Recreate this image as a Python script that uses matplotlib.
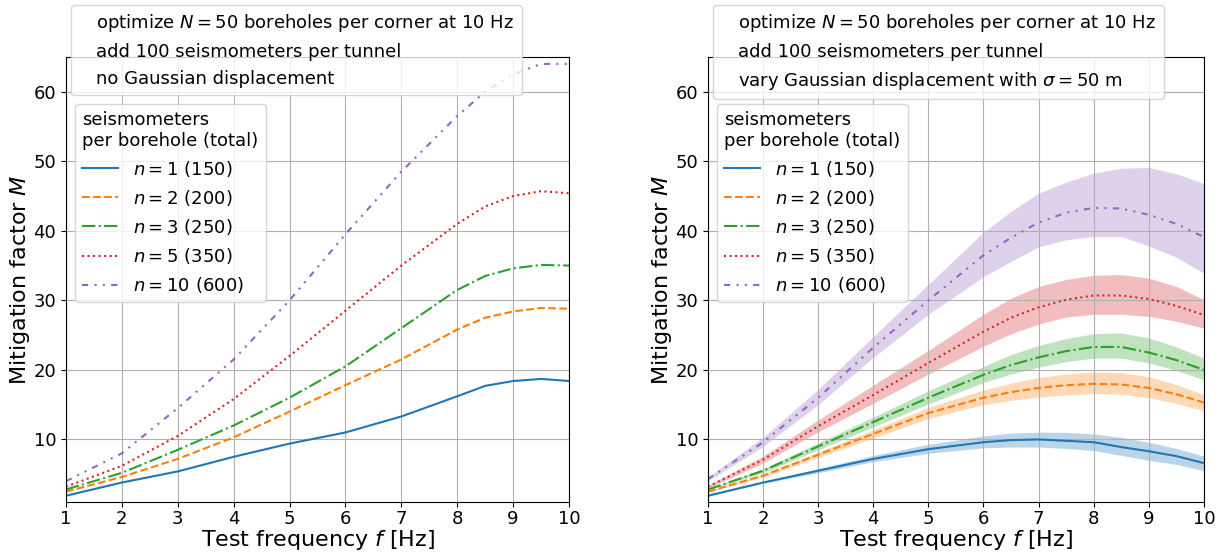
import matplotlib
matplotlib.use('Agg')
import numpy as np
import matplotlib.pyplot as plt
from matplotlib.lines import Line2D

freq_left = [1, 2, 3, 4, 5, 6, 7, 8, 8.5, 9, 9.5, 10]
freq_right = [1, 2, 3, 4, 5, 6, 6.5, 7, 7.5, 8, 8.5, 9, 9.5, 10]

labels = ['$n = 1$ (150)', '$n = 2$ (200)', '$n = 3$ (250)',
          '$n = 5$ (350)', '$n = 10$ (600)']
styles = ['-', '--', '-.', ':', (0, (3, 3, 1, 3, 1, 3))]
colors = ['C0', 'C1', 'C2', 'C3', 'C4']

# left panel: no Gaussian displacement
M_left_n1 = [1.9, 3.8, 5.4, 7.5, 9.4, 11.0, 13.3, 16.2, 17.7, 18.4, 18.7, 18.4]
M_left_n2 = [2.5, 4.6, 7.2, 10.3, 14.0, 17.8, 21.5, 25.8, 27.5, 28.4, 28.9, 28.8]
M_left_n3 = [2.8, 5.2, 8.5, 12.0, 16.0, 20.5, 26.0, 31.5, 33.5, 34.6, 35.1, 35.0]
M_left_n5 = [3.2, 6.2, 10.5, 15.8, 22.0, 28.5, 35.0, 41.0, 43.5, 45.0, 45.7, 45.4]
M_left_n10 = [4.0, 8.0, 14.5, 21.5, 30.0, 39.5, 48.5, 56.5, 60.0, 62.5, 64.0, 64.0]

# right panel: Gaussian displacement sigma = 50 m (mean, lower, upper)
M_right_n1 = [1.9, 3.8, 5.5, 7.2, 8.6, 9.6, 9.9, 10.0, 9.8, 9.6, 8.9, 8.3, 7.6, 6.6]
M_right_n2 = [2.5, 4.8, 7.8, 10.8, 13.8, 16.0, 16.8, 17.4, 17.8, 18.0, 17.9, 17.4, 16.5, 15.3]
M_right_n3 = [2.8, 5.5, 9.0, 12.5, 16.0, 19.3, 20.7, 21.8, 22.7, 23.3, 23.3, 22.5, 21.4, 20.0]
M_right_n5 = [3.2, 7.1, 11.9, 16.4, 21.0, 25.5, 27.5, 29.0, 30.1, 30.7, 30.7, 30.2, 29.2, 27.9]
M_right_n10 = [4.3, 9.6, 16.0, 23.2, 30.0, 36.5, 39.0, 41.2, 42.6, 43.3, 43.2, 42.3, 41.0, 39.1]

lo_right_n1 = [1.85, 3.7, 5.2, 6.8, 8.0, 8.8, 8.9, 8.9, 8.7, 8.4, 7.7, 7.0, 6.4, 5.5]
hi_right_n1 = [1.95, 3.9, 5.8, 7.7, 9.3, 10.5, 10.9, 11.05, 11.0, 10.8, 10.3, 9.6, 8.7, 7.6]
lo_right_n2 = [2.4, 4.6, 7.4, 10.2, 13.0, 15.0, 15.6, 16.1, 16.4, 16.6, 16.5, 16.0, 15.2, 14.1]
hi_right_n2 = [2.6, 5.0, 8.2, 11.4, 14.6, 17.1, 18.1, 18.9, 19.4, 19.7, 19.6, 19.0, 17.9, 16.4]
lo_right_n3 = [2.7, 5.2, 8.5, 11.8, 15.1, 18.2, 19.4, 20.4, 21.2, 21.7, 21.7, 21.0, 19.9, 18.6]
hi_right_n3 = [2.9, 5.8, 9.5, 13.2, 17.0, 20.5, 22.2, 23.5, 24.5, 25.2, 25.3, 24.6, 23.3, 21.7]
lo_right_n5 = [3.0, 6.6, 11.1, 15.2, 19.4, 23.4, 25.2, 26.6, 27.6, 28.0, 28.0, 27.7, 27.0, 26.0]
hi_right_n5 = [3.4, 7.6, 12.8, 17.8, 22.8, 28.0, 30.3, 32.0, 33.0, 33.6, 33.7, 33.2, 32.0, 30.1]
lo_right_n10 = [4.0, 9.0, 15.0, 21.8, 28.0, 33.4, 35.6, 37.7, 38.7, 39.2, 39.2, 37.8, 36.2, 33.9]
hi_right_n10 = [4.6, 10.3, 17.2, 24.8, 32.3, 39.8, 42.8, 45.4, 47.0, 48.3, 49.0, 49.1, 48.2, 46.8]

left_curves = [M_left_n1, M_left_n2, M_left_n3, M_left_n5, M_left_n10]
right_curves = [M_right_n1, M_right_n2, M_right_n3, M_right_n5, M_right_n10]
right_lo = [lo_right_n1, lo_right_n2, lo_right_n3, lo_right_n5, lo_right_n10]
right_hi = [hi_right_n1, hi_right_n2, hi_right_n3, hi_right_n5, hi_right_n10]

info_left = ['optimize $N = 50$ boreholes per corner at 10 Hz',
             'add 100 seismometers per tunnel',
             'no Gaussian displacement']
info_right = ['optimize $N = 50$ boreholes per corner at 10 Hz',
              'add 100 seismometers per tunnel',
              r'vary Gaussian displacement with $\sigma = 50$ m']

fig = plt.figure(figsize=(12.31, 5.53), dpi=100)
ax1 = fig.add_axes([0.0536, 0.0922, 0.4086, 0.8048])
ax2 = fig.add_axes([0.5751, 0.0922, 0.4029, 0.8048])

for i in range(5):
    ax1.plot(freq_left, left_curves[i], color=colors[i], linestyle=styles[i],
             lw=1.5, label=labels[i])
    ax2.fill_between(freq_right, right_lo[i], right_hi[i], color=colors[i],
                     alpha=0.3, lw=0)
    ax2.plot(freq_right, right_curves[i], color=colors[i], linestyle=styles[i],
             lw=1.5, label=labels[i])

for ax, info in [(ax1, info_left), (ax2, info_right)]:
    ax.set_xlim(1, 10)
    ax.set_ylim(1, 65)
    ax.set_xticks(range(1, 11))
    ax.set_yticks([10, 20, 30, 40, 50, 60])
    ax.tick_params(labelsize=13)
    ax.tick_params(axis='x', pad=2)
    ax.grid(True, color='#b0b0b0', lw=0.8)
    ax.set_xlabel('Test frequency $f$ [Hz]', fontsize=16, labelpad=0)
    ax.set_ylabel('Mitigation factor $M$', fontsize=16, labelpad=1)

    leg = ax.legend(loc='upper left', bbox_to_anchor=(0.018, 0.895),
                    borderaxespad=0, fontsize=13,
                    title='seismometers\nper borehole (total)',
                    title_fontsize=13, handlelength=2.0)
    leg._legend_box.align = 'left'
    ax.add_artist(leg)

    dummy = [Line2D([], [], linestyle='none') for _ in info]
    top = ax.legend(dummy, info, loc='upper left',
                    bbox_to_anchor=(0.01, 1.117), borderaxespad=0,
                    fontsize=13, handlelength=0, handletextpad=1.0)
    top.set_clip_on(False)

fig.savefig('out.png', dpi=100)
